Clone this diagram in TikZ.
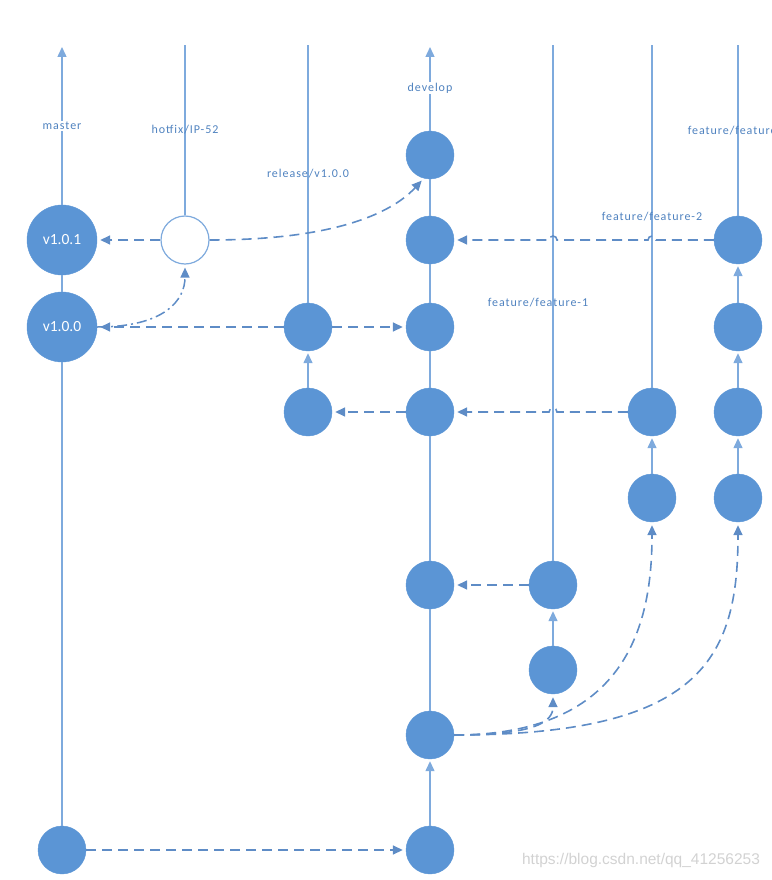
\documentclass[tikz,border=0pt]{standalone}
\usepackage{fontspec}
\setmainfont{Carlito}
\newfontfamily\lblfont[LetterSpace=8]{Carlito}
\newfontfamily\wmfont{Liberation Sans}
\usetikzlibrary{arrows.meta}
\definecolor{nodeblue}{HTML}{5B95D5}
\definecolor{lineblue}{HTML}{7EAADD}
\definecolor{dashblue}{HTML}{5E8CC6}
\definecolor{textblue}{HTML}{4F82BF}
\begin{document}
\begin{tikzpicture}[x=1pt,y=-1pt,
  commit/.style={circle,fill=nodeblue,draw=nodeblue,minimum size=48pt,inner sep=0pt},
  bigcommit/.style={commit,minimum size=70pt,text=white,font=\fontsize{15.5}{17}\selectfont},
  hotnode/.style={circle,draw=lineblue,fill=white,minimum size=48pt,inner sep=0pt,line width=1.2pt},
  trunk/.style={draw=lineblue,line width=1.4pt},
  tipped/.style={-{Triangle[length=10pt,width=9pt]},shorten >=2pt},
  merge/.style={draw=dashblue,line width=1.6pt,dash pattern=on 10pt off 6pt,-{Triangle[length=10pt,width=9pt]},shorten >=3pt},
  dashdot/.style={draw=dashblue,line width=1.5pt,dash pattern=on 10pt off 4pt on 2pt off 4pt,-{Triangle[length=10pt,width=9pt]},shorten >=3pt},
  lbl/.style={text=textblue,font=\lblfont\fontsize{12}{14}\selectfont,inner sep=1pt}
]
\useasboundingbox (0,0) rectangle (771,880);
% commits
\node[commit] (M0) at (62,850) {};
\node[bigcommit] (V100) at (62,327) {v1.0.0};
\node[bigcommit] (V101) at (62,240) {v1.0.1};
\node[hotnode] (H) at (185,240) {};
\node[commit] (R1) at (308,412) {};
\node[commit] (R2) at (308,327) {};
\node[commit] (D1) at (430,850) {};
\node[commit] (D2) at (430,735) {};
\node[commit] (D3) at (430,585) {};
\node[commit] (D4) at (430,412) {};
\node[commit] (D5) at (430,327) {};
\node[commit] (D6) at (430,240) {};
\node[commit] (D7) at (430,155) {};
\node[commit] (F1a) at (553,670) {};
\node[commit] (F1b) at (553,585) {};
\node[commit] (F2a) at (652,498) {};
\node[commit] (F2b) at (652,412) {};
\node[commit] (F3a) at (738,498) {};
\node[commit] (F3b) at (738,412) {};
\node[commit] (F3c) at (738,327) {};
\node[commit] (F3d) at (738,240) {};
% top ends
\coordinate (mtop) at (62,45);
\coordinate (htop) at (185,45);
\coordinate (rtop) at (308,45);
\coordinate (dtop) at (430,45);
\coordinate (f1top) at (553,45);
\coordinate (f2top) at (652,45);
\coordinate (f3top) at (738,45);
% branch lines
\draw[trunk] (M0) -- (V100);
\draw[trunk] (V100) -- (V101);
\draw[trunk,tipped] (V101) -- (mtop);
\draw[trunk] (H) -- (htop);
\draw[trunk,tipped] (R1) -- (R2);
\draw[trunk] (R2) -- (rtop);
\draw[trunk,tipped] (D1) -- (D2);
\draw[trunk] (D2) -- (D3);
\draw[trunk] (D3) -- (D4);
\draw[trunk] (D4) -- (D5);
\draw[trunk] (D5) -- (D6);
\draw[trunk] (D6) -- (D7);
\draw[trunk,tipped] (D7) -- (dtop);
\draw[trunk,tipped] (F1a) -- (F1b);
\draw[trunk] (F1b) -- (f1top);
\draw[trunk,tipped] (F2a) -- (F2b);
\draw[trunk] (F2b) -- (f2top);
\draw[trunk,tipped] (F3a) -- (F3b);
\draw[trunk,tipped] (F3b) -- (F3c);
\draw[trunk,tipped] (F3c) -- (F3d);
\draw[trunk] (F3d) -- (f3top);
% merges
\draw[merge] (M0) -- (D1);
\draw[merge] (D2.east) .. controls (535,735) and (553,722) .. (F1a.south);
\draw[merge] (D2.east) .. controls (630,735) and (652,620) .. (F2a.south);
\draw[merge] (D2.east) .. controls (700,735) and (738,660) .. (F3a.south);
\draw[merge] (F1b) -- (D3);
\draw[merge] (F2b.west) -- (557,412) arc[start angle=0,end angle=-180,radius=4] -- (D4.east);
\draw[merge] (D4) -- (R1);
\draw[merge] (R2) -- (D5);
\draw[merge] (R2) -- (V100);
\draw[merge] (F3d.west) -- (656,240) arc[start angle=0,end angle=-180,radius=4] -- (557,240) arc[start angle=0,end angle=-180,radius=4] -- (D6.east);
\draw[merge] (H) -- (V101);
\draw[merge] (H.east) .. controls (330,240) and (390,215) .. (D7.-105);
\draw[dashdot] (V100.east) .. controls (165,327) and (185,300) .. (H.south);
% labels
\node[lbl,fill=white] (Lm) at (62,126) {master};
\node[lbl,fill=white] (Ld) at (430,88) {develop};
\node[lbl] (Lh) at (185,130) {hotfix/IP-52};
\node[lbl] (Lr) at (308,174) {release/v1.0.0};
\node[lbl] (Lf1) at (538,303) {feature/feature-1};
\node[lbl] (Lf2) at (652,217) {feature/feature-2};
\node[lbl] (Lf3) at (738,131) {feature/feature-3};
\node[text=gray!35,font=\wmfont\fontsize{15.5}{17}\selectfont] (wm) at (641,860) {https://blog.csdn.net/qq\_41256253};
\end{tikzpicture}
\end{document}
